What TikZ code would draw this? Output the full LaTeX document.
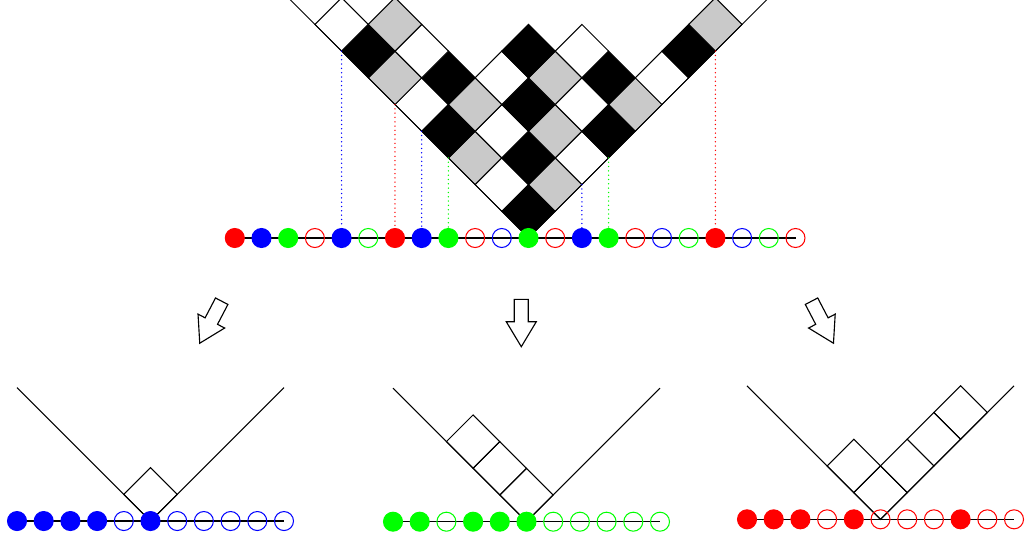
\documentclass[tikz,border=0pt]{standalone}
\usetikzlibrary{backgrounds}

\colorlet{bead0}{red}
\colorlet{bead1}{blue}
\colorlet{bead2}{green}
\colorlet{cell0}{black}
\colorlet{cell1}{black!21}
\colorlet{cell2}{white}

\tikzset{
  blockarrow/.pic={
    \draw[fill=white, line width=0.6pt, line join=miter]
      (0,-0.262) -- (0.84,-0.262) -- (0.84,-0.562) -- (1.775,0)
      -- (0.84,0.562) -- (0.84,0.262) -- (0,0.262) -- cycle;
  }
}

\begin{document}
\begin{tikzpicture}[
  x=0.5cm, y=0.5cm,
  cell/.style={draw, line width=0.55pt},
  cone/.style={line width=0.55pt},
  bead/.style={circle, minimum size=0.356cm, inner sep=0pt, line width=0.55pt},
  full/.style={bead, draw=#1, fill=#1},
  hollow/.style={bead, draw=#1},
  drop/.style={line width=0.8pt, line cap=round, dash pattern=on 0pt off 2.3pt},
  rail/.style={line width=0.6pt}
]
\useasboundingbox (-19.794,-11.386) rectangle (18.858,8.914);

% 上方：分拆 (8,5,5,4,2,2,2,1)，按 content mod 3 着色
\foreach \r/\n in {0/8,1/5,2/5,3/4,4/2,5/2,6/2,7/1}
  \foreach \c in {1,...,\n} {
    \pgfmathtruncatemacro\k{mod(\c-1-\r+30,3)}
    \pgfmathtruncatemacro\m{\c-1-\r}
    \pgfmathtruncatemacro\h{\c-1+\r}
    \draw[cell, fill=cell\k] (\m,\h) -- ++(1,1) -- ++(-1,1) -- ++(-1,-1) -- cycle;
  }
\draw[cone] (-9,9) -- (0,0) -- (9,9);
% Maya 图珠子
\foreach \i/\f in {0/1,1/1,2/1,3/0,4/1,5/0,6/1,7/1,8/1,9/0,10/0,11/1,
                   12/0,13/1,14/1,15/0,16/0,17/0,18/1,19/0,20/0,21/0} {
  \pgfmathtruncatemacro\k{mod(\i,3)}
  \ifnum\f=1 \node[full=bead\k] (t\i) at (\i-11,0) {};
  \else \node[hollow=bead\k] (t\i) at (\i-11,0) {}; \fi
}
\begin{scope}[on background layer]
\draw[rail] (t0.center) -- (t21.center);
\end{scope}
% 虚线，从锥边落到珠子
\foreach \i in {4,6,7,8,13,14,18} {
  \pgfmathtruncatemacro\k{mod(\i,3)}
  \coordinate (k\i) at (\i-11,{abs(\i-11)});
  \draw[drop, draw=bead\k] (k\i) -- (t\i);
}

% 箭头
\pic[rotate=-117.6] (arrL) at (-11.49,-2.367) {blockarrow};
\pic[rotate=-90] (arrM) at (-0.27,-2.296) {blockarrow};
\pic[rotate=-62.4] (arrR) at (10.60,-2.367) {blockarrow};

% 商：蓝
\begin{scope}[shift={(-14.157,-10.6)}]
\draw[cell] (0,0) -- ++(1,1) -- ++(-1,1) -- ++(-1,-1) -- cycle;
\draw[cone] (-5,5) -- (0,0) -- (5,5);
\foreach \i/\f in {0/1,1/1,2/1,3/1,4/0,5/1,6/0,7/0,8/0,9/0,10/0} {
  \ifnum\f=1 \node[full=blue] (b\i) at (\i-5,0) {};
  \else \node[hollow=blue] (b\i) at (\i-5,0) {}; \fi
}
\begin{scope}[on background layer]
\draw[rail] (b0.center) -- (b10.center);
\end{scope}
\end{scope}

% 商：绿
\begin{scope}[shift={(-0.075,-10.625)}]
\foreach \m/\h in {0/0,-1/1,-2/2}
  \draw[cell] (\m,\h) -- ++(1,1) -- ++(-1,1) -- ++(-1,-1) -- cycle;
\draw[cone] (-5,5) -- (0,0) -- (5,5);
\foreach \i/\f in {0/1,1/1,2/0,3/1,4/1,5/1,6/0,7/0,8/0,9/0,10/0} {
  \ifnum\f=1 \node[full=green] (g\i) at (\i-5,0) {};
  \else \node[hollow=green] (g\i) at (\i-5,0) {}; \fi
}
\begin{scope}[on background layer]
\draw[rail] (g0.center) -- (g10.center);
\end{scope}
\end{scope}

% 商：红
\begin{scope}[shift={(13.184,-10.536)}]
\foreach \m/\h in {0/0,1/1,2/2,3/3,-1/1}
  \draw[cell] (\m,\h) -- ++(1,1) -- ++(-1,1) -- ++(-1,-1) -- cycle;
\draw[cone] (-5,5) -- (0,0) -- (5,5);
\foreach \i/\f in {0/1,1/1,2/1,3/0,4/1,5/0,6/0,7/0,8/1,9/0,10/0} {
  \ifnum\f=1 \node[full=red] (r\i) at (\i-5,0) {};
  \else \node[hollow=red] (r\i) at (\i-5,0) {}; \fi
}
\begin{scope}[on background layer]
\draw[rail] (r0.center) -- (r10.center);
\end{scope}
\end{scope}
\end{tikzpicture}
\end{document}
